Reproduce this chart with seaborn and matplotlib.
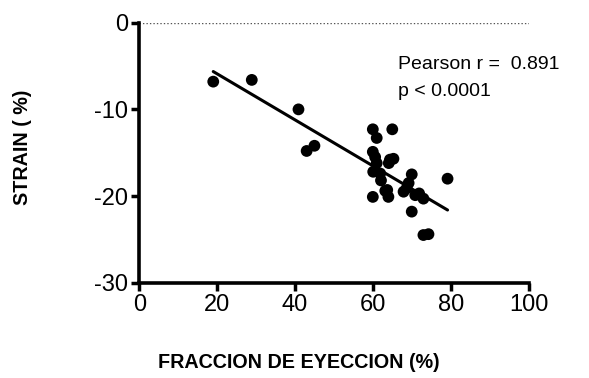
import matplotlib
matplotlib.use("Agg")
import matplotlib.pyplot as plt
import seaborn as sns
import numpy as np
import pandas as pd

fraccion = [19.0, 28.9, 40.9, 43.0, 45.0, 60.0, 61.0, 65.0, 60.0, 60.6, 61.0, 60.1, 61.9, 62.1,
            64.4, 65.3, 64.1, 60.0, 63.2, 64.0, 63.7, 70.0, 69.2, 67.9, 68.7, 70.9, 71.9, 73.0,
            70.0, 73.0, 74.3, 79.2]
strain = [-6.8, -6.6, -10.0, -14.8, -14.2, -12.3, -13.3, -12.3, -14.9, -15.5, -16.2, -17.2, -17.4, -18.2,
          -15.8, -15.7, -16.2, -20.1, -19.4, -20.1, -19.3, -17.5, -18.5, -19.5, -19.1, -19.9, -19.7, -20.3,
          -21.8, -24.5, -24.4, -18.0]
x_ticks = [0, 20, 40, 60, 80, 100]
y_ticks = [-30, -20, -10, 0]
y_ticklabels = ["-30", "-20", "-10", "0"]
annot_lines = ["Pearson r =  0.891", "p < 0.0001"]

df = pd.DataFrame({"fe": fraccion, "strain": strain})

sns.set_style("ticks", {"text.color": "black", "axes.labelcolor": "black",
                        "xtick.color": "black", "ytick.color": "black",
                        "axes.edgecolor": "black"})
plt.rcParams['font.family'] = ['Liberation Sans', 'DejaVu Sans']

fig = plt.figure(figsize=(5.89, 3.78), dpi=100)
ax = fig.add_axes([139.3/589, 1 - 282.7/378, (528.5-139.3)/589, (282.7-22.7)/378])

sns.regplot(data=df, x="fe", y="strain", ax=ax, ci=None,
            scatter_kws=dict(s=72, color="black", edgecolor="none", alpha=1),
            line_kws=dict(color="black", lw=2.2))

ax.axhline(0, color="#555555", lw=1, ls=(0, (1, 1.5)), zorder=0)
ax.set_xlim(0, 100)
ax.set_ylim(-30, 0)
ax.set_xticks(x_ticks)
ax.set_yticks(y_ticks)
ax.set_yticklabels(y_ticklabels)
ax.tick_params(labelsize=17, width=2.5, length=6, color="black", labelcolor="black", pad=2)
for s in ["left", "bottom"]:
    ax.spines[s].set_linewidth(2.6)
    ax.spines[s].set_color("black")
for s in ["top", "right"]:
    ax.spines[s].set_visible(False)
ax.set_xlabel("FRACCION DE EYECCION (%)", fontsize=14.2, fontweight="bold", va="center", color="black")
ax.xaxis.set_label_coords((299 - 139.3) / 389.2, (282.7 - 363) / 260)
ax.set_ylabel("STRAIN ( %)", fontsize=14.2, fontweight="bold", va="center", color="black")
ax.yaxis.set_label_coords((23 - 139.3) / 389.2, (282.7 - 147) / 260)

fig.text(398/589, 1 - 69/378, annot_lines[0], fontsize=14, va="baseline", color="black")
fig.text(398/589, 1 - 96/378, annot_lines[1], fontsize=14, va="baseline", color="black")

fig.savefig("out.png", dpi=100)
